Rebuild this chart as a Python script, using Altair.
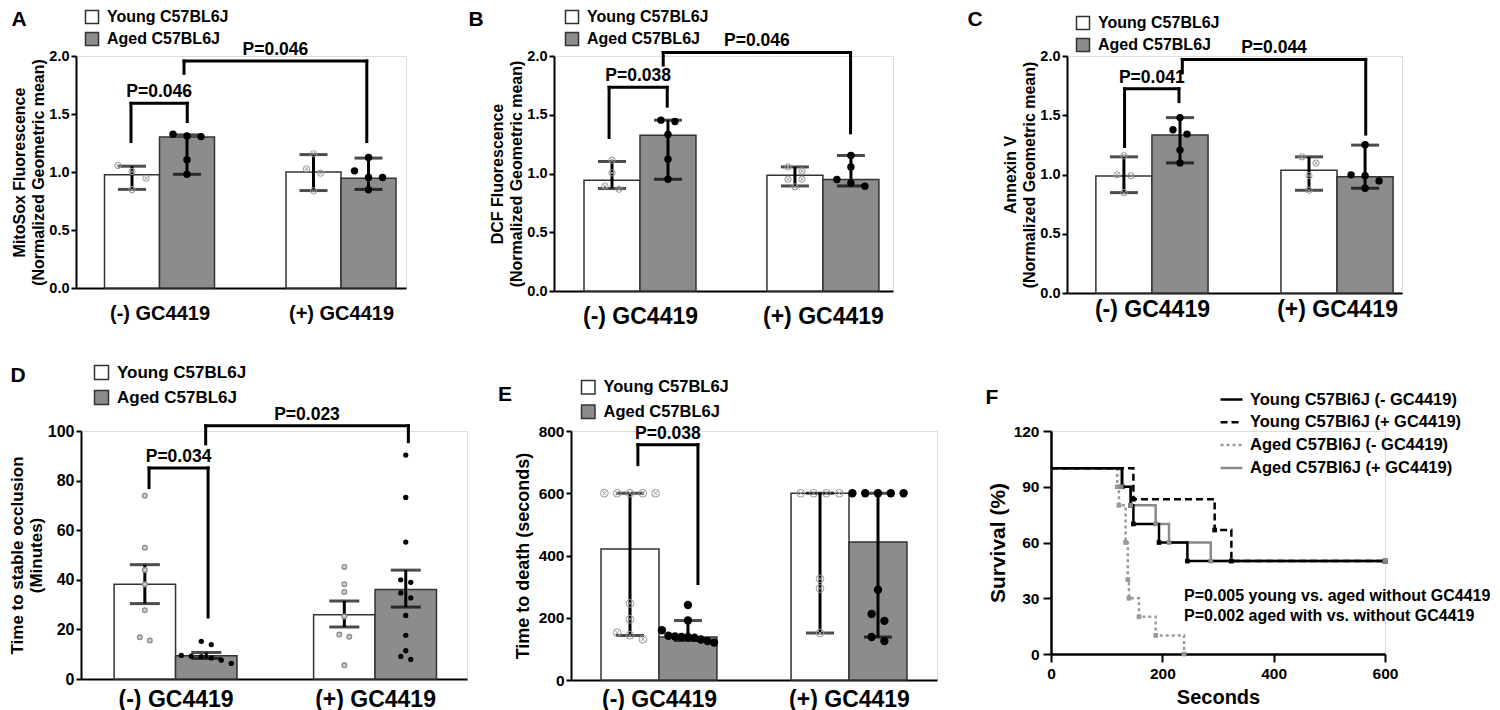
import altair as alt
import pandas as pd

FONT = "Liberation Sans"
GROUPS = ["(-) GC4419", "(+) GC4419"]
SERIES = ["Young C57BL6J", "Aged C57BL6J"]
BAR_ORDER = [(0, 0), (0, 1), (1, 0), (1, 1)]  # (group index, series index)

# ---------------- Panel A : MitoSox ----------------
a_bar = [0.976, 1.302, 1.0, 0.947]
a_lo = [0.85, 0.98, 0.84, 0.85]
a_hi = [1.05, 1.32, 1.15, 1.12]
a_dots_young_minus = [1.056, 1.004, 0.947, 0.847]
a_dots_aged_minus = [1.311, 1.325, 1.305, 1.105, 0.981]
a_dots_young_plus = [1.157, 1.027, 0.99, 0.838]
a_dots_aged_plus = [1.125, 1.01, 0.953, 0.953, 0.847]
a_brackets = [(-0.157, 0.153, 1.262, 1.592, 1.435, "P=0.046"),
              (0.135, 1.142, 1.85, 1.957, 1.262, "P=0.046")]

# ---------------- Panel B : DCF ----------------
b_bar = [0.943, 1.326, 0.986, 0.949]
b_lo = [0.872, 0.951, 0.894, 0.894]
b_hi = [1.102, 1.454, 1.056, 1.153]
b_dots_young_minus = [1.113, 1.005, 0.866, 0.894]
b_dots_aged_minus = [1.454, 1.443, 1.332, 1.122, 0.951]
b_dots_young_plus = [1.022, 1.056, 0.951, 0.951, 0.886]
b_dots_aged_plus = [1.153, 1.056, 0.949, 0.892, 0.92]
b_brackets = [(-0.169, 0.149, 1.307, 1.733, 1.573, "P=0.038"),
              (0.127, 1.151, 1.923, 2.03, 1.346, "P=0.046")]

# ---------------- Panel C : Annexin V ----------------
c_bar = [0.988, 1.333, 1.036, 0.98]
c_lo = [0.847, 1.098, 0.867, 0.884]
c_hi = [1.149, 1.48, 1.149, 1.248]
c_dots_young_minus = [1.158, 0.997, 0.99, 0.847]
c_dots_aged_minus = [1.48, 1.341, 1.378, 1.206, 1.098]
c_dots_young_plus = [1.096, 1.149, 0.99, 0.867]
c_dots_aged_plus = [1.251, 0.997, 0.99, 0.946, 0.884]
c_brackets = [(-0.148, 0.146, 1.237, 1.723, 1.615, "P=0.041"),
              (0.164, 1.155, 1.858, 1.971, 1.341, "P=0.044")]

# ---------------- Panel D : time to occlusion ----------------
d_bar = [38.2, 9.4, 25.9, 36.1]
d_lo = [30.4, 8.3, 21.0, 29.0]
d_hi = [46.1, 10.7, 31.5, 43.9]
d_dots_young_minus = [73.9, 52.9, 44.0, 38.2, 27.7, 16.8, 15.5]
d_dots_aged_minus = [15.2, 13.9, 9.5, 9.2, 9.0, 8.5, 7.6, 6.3]
d_dots_young_plus = [45.2, 38.2, 35.1, 25.2, 17.9, 17.0, 5.5]
d_dots_aged_plus = [90.3, 73.2, 55.2, 40.0, 39.0, 34.7, 32.7, 25.6, 17.6, 11.4, 9.1, 7.9]
d_brackets = [(-0.133, 0.163, 77.2, 85.1, 25.0, "P=0.034"),
              (0.151, 1.167, 94.8, 102.1, 95.7, "P=0.023")]

# ---------------- Panel E : time to death ----------------
e_bar = [421, 138, 600, 443]
e_lo = [143, 127, 151, 138]
e_hi = [600, 191, 600, 600]
e_dots_young_minus = [600, 600, 600, 600, 600, 246, 195, 152, 144, 131]
e_dots_aged_minus = [241, 191, 160, 142, 140, 138, 138, 136, 130, 125, 120]
e_dots_young_plus = [600, 600, 600, 600, 325, 294, 151]
e_dots_aged_plus = [600, 600, 600, 600, 600, 290, 212, 190, 138, 125]
e_brackets = [(-0.111, 0.205, 692, 756, 310, "P=0.038")]

# ---------------- Panel F : survival ----------------
f_series = ["Young C57Bl6J (- GC4419)", "Young C57Bl6J (+ GC4419)",
            "Aged C57Bl6J (- GC4419)", "Aged C57Bl6J (+ GC4419)"]
f_young_minus_t = [0, 128, 143, 148, 194, 245, 600]
f_young_minus_s = [100, 90, 80, 70, 60, 50, 50]
f_young_plus_t = [0, 148, 294, 324, 600]
f_young_plus_s = [100, 83.3, 66.7, 50, 50]
f_aged_minus_t = [0, 119, 122, 134, 138, 140, 158, 188, 239]
f_aged_minus_s = [100, 90, 80, 60, 40, 30, 20, 10, 0]
f_aged_plus_t = [0, 126, 143, 188, 212, 287, 600]
f_aged_plus_s = [100, 90, 80, 70, 60, 50, 50]
f_notes = ["P=0.005 young vs. aged without GC4419", "P=0.002 aged with vs. without GC4419"]
f_note_x = [239, 239]
f_note_y = [31.4, 20.5]

YOUNG_STROKE = "#9a9a9a"
AGED_FILL = "#8c8c8c"


def spread(values, center, pxx, pxy, dot_px, step_px, max_w_px):
    """Deterministic beeswarm: spread points whose values overlap."""
    idx = sorted(range(len(values)), key=lambda i: -values[i])
    clusters = []
    for i in idx:
        if clusters and (values[clusters[-1][-1]] - values[i]) * pxy < dot_px:
            clusters[-1].append(i)
        else:
            clusters.append([i])
    xs = [center] * len(values)
    for cl in clusters:
        n = len(cl)
        if n == 1:
            continue
        step = min(step_px, max_w_px / (n - 1))
        for k, i in enumerate(cl):
            xs[i] = center + (k - (n - 1) / 2) * step / pxx
    return xs


def txt(size, **kw):
    return dict(font=FONT, fontWeight="bold", fontSize=size, color="black", **kw)


def bar_panel(c):
    W, H = c["w"], c["h"]
    xmin, xmax = c["xdom"]
    bw = c["bw"]
    pxx = W / (xmax - xmin)
    pxy = H / (c["ydom"][1] - c["ydom"][0])
    rows = []
    for k, (g, s) in enumerate(BAR_ORDER):
        xc = g + (bw / 2 if s == 1 else -bw / 2)
        rows.append(dict(series=SERIES[s], x1=xc - bw / 2, x2=xc + bw / 2, xc=xc,
                         value=c["bar"][k], base=0.0, lo=c["lo"][k], hi=c["hi"][k]))
    bars = pd.DataFrame(rows)
    caps = pd.DataFrame([dict(xc=r["xc"], y=r["lo"]) for r in rows] +
                        [dict(xc=r["xc"], y=r["hi"]) for r in rows])
    young_rows, aged_rows = [], []
    for k, vals in enumerate(c["dots"]):
        xc = rows[k]["xc"]
        xs = spread(vals, xc, pxx, pxy, c["dot_px"], c["step_px"], bw * pxx * 0.9)
        target = young_rows if BAR_ORDER[k][1] == 0 else aged_rows
        for xv, v in zip(xs, vals):
            target.append(dict(x=xv, v=v))
    young = pd.DataFrame(young_rows)
    aged = pd.DataFrame(aged_rows)
    segs, labs = [], []
    for (x1, x2, yl, yt, yr, lab) in c["brackets"]:
        segs += [dict(x=x1, x2=x1, y=yl, y2=yt), dict(x=x1, x2=x2, y=yt, y2=yt),
                 dict(x=x2, x2=x2, y=yt, y2=yr)]
        labs.append(dict(x=(x1 + x2) / 2, y=yt, label=lab))
    segs = pd.DataFrame(segs)
    labs = pd.DataFrame(labs)

    xs_ = alt.Scale(domain=[xmin, xmax], nice=False, zero=False)
    ys_ = alt.Scale(domain=c["ydom"], nice=False, zero=True)
    label_expr = "[" + ",".join("'" + g + "'" for g in GROUPS) + "][datum.value]"
    xaxis = alt.Axis(values=[0, 1], labelExpr=label_expr, ticks=False, grid=False, title=None,
                     labelFont=FONT, labelFontWeight="bold", labelFontSize=c["xlab"],
                     labelPadding=c["xlab_pad"], labelColor="black", domainColor="black",
                     domainWidth=2, labelFlush=False, labelOverlap=False)
    yaxis = alt.Axis(values=c["yticks"], format=c["yfmt"], grid=False, tickSize=5, tickWidth=2,
                     tickColor="black", domainColor="black", domainWidth=2, labelFont=FONT,
                     labelFontWeight="bold", labelFontSize=c["ylab"], labelColor="black",
                     labelPadding=2, title=c["ytitle"], titleFont=FONT, titleFontWeight="bold",
                     titleFontSize=c["ytitle_size"], titleColor="black",
                     titlePadding=c["ytitle_pad"], titleLineHeight=c["ytitle_lh"])

    def X(f):
        return alt.X(f, type="quantitative", scale=xs_, axis=xaxis)

    def Y(f):
        return alt.Y(f, type="quantitative", scale=ys_, axis=yaxis)

    legend = alt.Legend(title=None, orient="none", legendX=c["leg"][0], legendY=c["leg"][1],
                        symbolType="square", symbolSize=c["leg_sym"] ** 2,
                        symbolStrokeColor="#333333", symbolStrokeWidth=1.5, labelFont=FONT,
                        labelFontWeight="bold", labelFontSize=c["leg_font"], labelColor="black",
                        labelOffset=7, rowPadding=c["leg_row"], padding=0, symbolOpacity=1)

    bar_l = alt.Chart(bars).mark_rect(stroke="#333333", strokeWidth=1.5).encode(
        x=X("x1"), x2="x2:Q", y=Y("value"), y2="base:Q",
        fill=alt.Fill("series:N", scale=alt.Scale(domain=SERIES, range=["#ffffff", AGED_FILL]),
                      legend=legend))
    err_l = alt.Chart(bars).mark_rule(color="black", strokeWidth=3).encode(
        x=X("xc"), y=Y("lo"), y2="hi:Q")
    cap_l = alt.Chart(caps).mark_tick(color="black", thickness=3, size=c["cap"],
                                      orient="horizontal").encode(x=X("xc"), y=Y("y"))
    layers = [bar_l, err_l, cap_l]
    if c["young_style"] == "cross":
        layers.append(alt.Chart(young).mark_point(shape="circle", filled=False, stroke=YOUNG_STROKE,
                                                  strokeWidth=1, size=c["young_size"], opacity=1)
                      .encode(x=X("x"), y=Y("v")))
        layers.append(alt.Chart(young).mark_point(shape="M-0.55,-0.55L0.55,0.55M-0.55,0.55L0.55,-0.55",
                                                  filled=False, stroke=YOUNG_STROKE, strokeWidth=1,
                                                  size=c["young_size"], opacity=1)
                      .encode(x=X("x"), y=Y("v")))
    else:
        layers.append(alt.Chart(young).mark_point(shape="circle", filled=True, fill="#cfcfcf",
                                                  stroke="#8a8a8a", strokeWidth=1.3,
                                                  size=c["young_size"], opacity=1)
                      .encode(x=X("x"), y=Y("v")))
    layers.append(alt.Chart(aged).mark_circle(color="black", size=c["aged_size"], opacity=1)
                  .encode(x=X("x"), y=Y("v")))
    layers.append(alt.Chart(segs).mark_rule(color="black", strokeWidth=3, strokeCap="square")
                  .encode(x=X("x"), x2="x2:Q", y=Y("y"), y2="y2:Q"))
    layers.append(alt.Chart(labs).mark_text(baseline="middle", align="center", dy=-11,
                                            **txt(17.5)).encode(x=X("x"), y=Y("y"), text="label:N"))
    layers.append(alt.Chart(pd.DataFrame({"t": [c["letter"]]}))
                  .mark_text(align="center", baseline="middle", **txt(21))
                  .encode(x=alt.value(c["letter_pos"][0]), y=alt.value(c["letter_pos"][1]), text="t:N"))
    return alt.layer(*layers).properties(width=W, height=H)


common_small = dict(ydom=[0, 2], yticks=[0, 0.5, 1.0, 1.5, 2.0], yfmt=".1f", ylab=14.5,
                    ytitle_size=16, ytitle_lh=19.5, ytitle_pad=2, leg_sym=13, leg_font=16,
                    leg_row=2, cap=28, young_style="cross", young_size=40, aged_size=55,
                    dot_px=7, step_px=14)

A = bar_panel(dict(common_small, w=330, h=232, xdom=[-0.46, 1.358], bw=0.303,
                   bar=a_bar, lo=a_lo, hi=a_hi,
                   dots=[a_dots_young_minus, a_dots_aged_minus, a_dots_young_plus, a_dots_aged_plus],
                   brackets=a_brackets, xlab=20, xlab_pad=15,
                   ytitle=["MitoSox Fluorescence", "(Normalized Geometric mean)"],
                   leg=[8, -47], letter="A", letter_pos=[-57, -36]))
B = bar_panel(dict(common_small, w=339, h=235, xdom=[-0.47, 1.383], bw=0.306,
                   bar=b_bar, lo=b_lo, hi=b_hi,
                   dots=[b_dots_young_minus, b_dots_aged_minus, b_dots_young_plus, b_dots_aged_plus],
                   brackets=b_brackets, xlab=23, xlab_pad=14,
                   ytitle=["DCF Fluorescence", "(Normalized Geometric mean)"],
                   leg=[10, -47], letter="B", letter_pos=[-78, -36]))
C = bar_panel(dict(common_small, w=335, h=237, xdom=[-0.459, 1.351], bw=0.303,
                   bar=c_bar, lo=c_lo, hi=c_hi,
                   dots=[c_dots_young_minus, c_dots_aged_minus, c_dots_young_plus, c_dots_aged_plus],
                   brackets=c_brackets, xlab=23, xlab_pad=5,
                   ytitle=["Annexin V", "(Normalized Geometric mean)"],
                   leg=[8, -41], letter="C", letter_pos=[-92, -36]))
D = bar_panel(dict(w=386, h=248, xdom=[-0.474, 1.461], bw=0.308, ydom=[0, 100],
                   yticks=[0, 20, 40, 60, 80, 100], yfmt="d", ylab=16,
                   bar=d_bar, lo=d_lo, hi=d_hi,
                   dots=[d_dots_young_minus, d_dots_aged_minus, d_dots_young_plus, d_dots_aged_plus],
                   brackets=d_brackets, xlab=23, xlab_pad=9,
                   ytitle=["Time to stable occlusion", "(Minutes)"], ytitle_size=17,
                   ytitle_lh=18.5, ytitle_pad=2, leg_sym=14, leg_font=17, leg_row=4,
                   leg=[12, -67], cap=30, young_style="dot", young_size=22, aged_size=28,
                   dot_px=5, step_px=10, letter="D", letter_pos=[-63, -55]))
E = bar_panel(dict(w=366, h=249, xdom=[-0.463, 1.463], bw=0.305, ydom=[0, 800],
                   yticks=[0, 200, 400, 600, 800], yfmt="d", ylab=15.5,
                   bar=e_bar, lo=e_lo, hi=e_hi,
                   dots=[e_dots_young_minus, e_dots_aged_minus, e_dots_young_plus, e_dots_aged_plus],
                   brackets=e_brackets, xlab=23, xlab_pad=8,
                   ytitle="Time to death (seconds)", ytitle_size=18, ytitle_lh=20, ytitle_pad=6,
                   leg_sym=13.5, leg_font=16.5, leg_row=4.5, leg=[9, -52], cap=28,
                   young_style="cross", young_size=60, aged_size=70, dot_px=9, step_px=12.8,
                   letter="E", letter_pos=[-66, -36]))

# ---------------- Panel F ----------------
f_t = [f_young_minus_t, f_young_plus_t, f_aged_minus_t, f_aged_plus_t]
f_s = [f_young_minus_s, f_young_plus_s, f_aged_minus_s, f_aged_plus_s]
line_colors = ["black", "black", "#999999", "#8a8a8a"]
km_rows, mk_rows = [], []
for name, ts, ss, col in zip(f_series, f_t, f_s, line_colors):
    for t, s in zip(ts, ss):
        km_rows.append(dict(series=name, t=t, s=s))
        if t > 0:
            mk_rows.append(dict(series=name, t=t, s=s, pcolor=col))
km = pd.DataFrame(km_rows)
mk = pd.DataFrame(mk_rows)
notes = pd.DataFrame(dict(x=f_note_x, y=f_note_y, text=f_notes))

fx = alt.Scale(domain=[0, 600], nice=False)
fy = alt.Scale(domain=[0, 120], nice=False)
fxaxis = alt.Axis(values=[0, 200, 400, 600], grid=False, tickSize=8, tickWidth=2, tickColor="black",
                  domainColor="black", domainWidth=2.5, labelFont=FONT, labelFontWeight="bold",
                  labelFontSize=15.5, labelColor="black", labelPadding=4, labelFlush=False,
                  title="Seconds", titleFont=FONT, titleFontWeight="bold", titleFontSize=20,
                  titleColor="black", titlePadding=6)
fyaxis = alt.Axis(values=[0, 30, 60, 90, 120], grid=False, tickSize=8, tickWidth=2, tickColor="black",
                  domainColor="black", domainWidth=2.5, labelFont=FONT, labelFontWeight="bold",
                  labelFontSize=15.5, labelColor="black", labelPadding=4, labelFlush=False,
                  title="Survival (%)", titleFont=FONT, titleFontWeight="bold", titleFontSize=21,
                  titleColor="black", titlePadding=5)
cscale = alt.Scale(domain=f_series, range=line_colors)
dscale = alt.Scale(domain=f_series, range=[[1, 0], [7, 4], [3, 3], [1, 0]])
fleg = alt.Legend(title=None, orient="none", legendX=168, legendY=-44, symbolType="stroke",
                  symbolSize=480, symbolStrokeWidth=2.5, labelFont=FONT, labelFontWeight="bold",
                  labelFontSize=16.5, labelColor="black", labelOffset=6, rowPadding=1.8, padding=0,
                  labelLimit=400)


def km_layer(names):
    return alt.Chart(km).transform_filter(alt.FieldOneOfPredicate(field="series", oneOf=names)) \
        .mark_line(interpolate="step-after", strokeWidth=2.5).encode(
        x=alt.X("t:Q", scale=fx, axis=fxaxis), y=alt.Y("s:Q", scale=fy, axis=fyaxis),
        color=alt.Color("series:N", scale=cscale, legend=fleg),
        strokeDash=alt.StrokeDash("series:N", scale=dscale, legend=fleg))


F = alt.layer(
    km_layer([f_series[3], f_series[2]]),
    km_layer([f_series[1], f_series[0]]),
    alt.Chart(mk).mark_point(shape="square", filled=True, size=22, opacity=1).encode(
        x=alt.X("t:Q", scale=fx, axis=fxaxis), y=alt.Y("s:Q", scale=fy, axis=fyaxis),
        color=alt.Color("pcolor:N", scale=None)),
    alt.Chart(notes).mark_text(align="left", baseline="middle", **txt(16)).encode(
        x=alt.X("x:Q", scale=fx, axis=fxaxis), y=alt.Y("y:Q", scale=fy, axis=fyaxis), text="text:N"),
    alt.Chart(pd.DataFrame({"t": ["F"]})).mark_text(align="center", baseline="middle", **txt(21))
    .encode(x=alt.value(-59), y=alt.value(-33), text="t:N"),
).properties(width=334, height=223)


def spacer(w):
    return alt.Chart(pd.DataFrame({"v": [0]})).mark_point(opacity=0).properties(width=w, height=1)


IND = dict(fill="independent", color="independent", strokeDash="independent")

row1 = alt.hconcat(A, spacer(148), B, spacer(174), C, spacing=0, bounds="flush") \
    .resolve_scale(**IND).resolve_legend(**IND)
row2 = alt.hconcat(spacer(5), D, spacer(104), E, spacer(114), F, spacing=0, bounds="flush") \
    .resolve_scale(**IND).resolve_legend(**IND)

chart = alt.vconcat(row1, row2, spacing=34).resolve_scale(**IND).resolve_legend(**IND).properties(
    padding={"left": 0, "top": 0, "right": 0, "bottom": 0}
).configure_view(stroke=None).configure(background="white")

chart.save("out.html", embed_options={"renderer": "svg", "actions": False})
